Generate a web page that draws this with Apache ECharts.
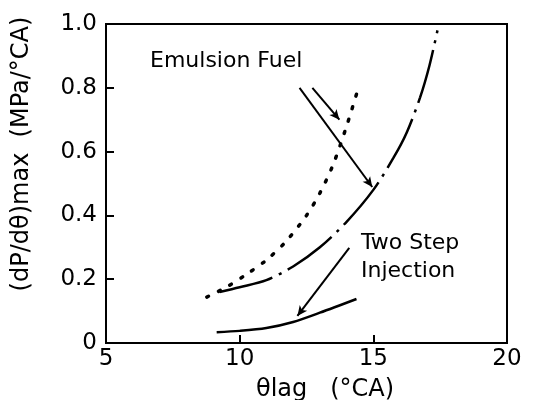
<!DOCTYPE html>
<html>
<head>
<meta charset="utf-8">
<script src="https://cdn.jsdelivr.net/npm/echarts@6/dist/echarts.min.js"></script>
<style>
  html, body { margin: 0; padding: 0; background: #fff; }
  #chart { width: 537px; height: 400px; }
</style>
</head>
<body>
<div id="chart"></div>
<script>
// θlag (°CA) vs (dP/dθ)max (MPa/°CA)
const xTicks = [5, 10, 15, 20];
const yTicks = [0, 0.2, 0.4, 0.6, 0.8, 1.0];

// Emulsion fuel (dotted curve)
const emulsionX = [8.77, 9.5, 10.25, 11.0, 11.75, 12.5, 13.0, 13.5, 14.0, 14.37];
const emulsionY = [0.144, 0.175, 0.215, 0.26, 0.32, 0.40, 0.47, 0.56, 0.68, 0.78];

// Baseline (dash-dot curve)
const baseX = [9.25, 10.0, 11.0, 12.0, 13.0, 14.0, 15.0, 15.75, 16.25, 16.75, 17.1, 17.4];
const baseY = [0.16, 0.175, 0.197, 0.24, 0.30, 0.38, 0.48, 0.58, 0.66, 0.77, 0.87, 0.98];

// Two step injection (solid curve)
const twoStepX = [9.14, 10.0, 11.0, 12.0, 13.0, 14.37];
const twoStepY = [0.034, 0.038, 0.047, 0.066, 0.095, 0.138];

// Leader arrows [fromX, fromY, toX, toY]
const emulsionArrowA = [12.24, 0.80, 14.96, 0.489];
const emulsionArrowB = [12.72, 0.80, 13.73, 0.70];
const twoStepArrow = [14.10, 0.298, 12.16, 0.085];

const zip = (xs, ys) => xs.map((x, i) => [x, ys[i]]);
const arrow = a => [{ coord: [a[0], a[1]] }, { coord: [a[2], a[3]] }];

const FONT = 'DejaVu Sans';
const chart = echarts.init(document.getElementById('chart'), null, { renderer: 'canvas' });

chart.setOption({
  animation: false,
  backgroundColor: '#fff',
  grid: {
    left: 106, right: 30, top: 24, bottom: 57,
    show: true, borderColor: '#000', borderWidth: 2, backgroundColor: 'transparent'
  },
  xAxis: {
    type: 'value', min: xTicks[0], max: xTicks[xTicks.length - 1], interval: 5,
    axisLine: { lineStyle: { color: '#000', width: 2 } },
    axisTick: { inside: true, length: 8, lineStyle: { color: '#000', width: 2 } },
    axisLabel: { color: '#000', fontFamily: FONT, fontSize: 23, margin: 5,
      formatter: v => xTicks.includes(v) ? String(v) : '' },
    splitLine: { show: false }
  },
  yAxis: {
    type: 'value', min: 0, max: 1, interval: 0.2,
    axisLine: { lineStyle: { color: '#000', width: 2 } },
    axisTick: { inside: true, length: 8, lineStyle: { color: '#000', width: 2 } },
    axisLabel: { color: '#000', fontFamily: FONT, fontSize: 23, margin: 9,
      formatter: v => (v === 0 ? '0' : v.toFixed(1)) },
    splitLine: { show: false }
  },
  graphic: [
    { type: 'text', left: 150, top: 50,
      style: { text: 'Emulsion Fuel', font: '22px "DejaVu Sans"', fill: '#000' } },
    { type: 'text', left: 361, top: 232,
      style: { text: 'Two Step', font: '22px "DejaVu Sans"', fill: '#000' } },
    { type: 'text', left: 361, top: 260,
      style: { text: 'Injection', font: '22px "DejaVu Sans"', fill: '#000' } },
    { type: 'text', left: 256, top: 378,
      style: { text: 'θlag   (°CA)', font: '24px "DejaVu Sans"', fill: '#000' } },
    { type: 'text', x: 22, y: 154, rotation: Math.PI / 2,
      style: { text: '(dP/dθ)max  (MPa/°CA)', font: '24px "DejaVu Sans"', fill: '#000',
        align: 'center', verticalAlign: 'middle' } }
  ],
  series: [
    {
      type: 'line', data: zip(emulsionX, emulsionY), smooth: 0.3, showSymbol: false,
      lineStyle: { color: '#000', width: 3.5, type: [2, 11], cap: 'round' },
      markLine: {
        silent: true, symbol: ['none', 'arrow'], symbolSize: [7, 10],
        label: { show: false },
        lineStyle: { color: '#000', width: 2, type: 'solid' },
        data: [arrow(emulsionArrowA), arrow(emulsionArrowB)]
      }
    },
    {
      type: 'line', data: zip(baseX, baseY), smooth: 0.3, showSymbol: false,
      lineStyle: { color: '#000', width: 2.5, type: [55, 7, 3, 7] }
    },
    {
      type: 'line', data: zip(twoStepX, twoStepY), smooth: 0.3, showSymbol: false,
      lineStyle: { color: '#000', width: 2.5 },
      markLine: {
        silent: true, symbol: ['none', 'arrow'], symbolSize: [7, 10],
        label: { show: false },
        lineStyle: { color: '#000', width: 2, type: 'solid' },
        data: [arrow(twoStepArrow)]
      }
    }
  ]
});
</script>
</body>
</html>
